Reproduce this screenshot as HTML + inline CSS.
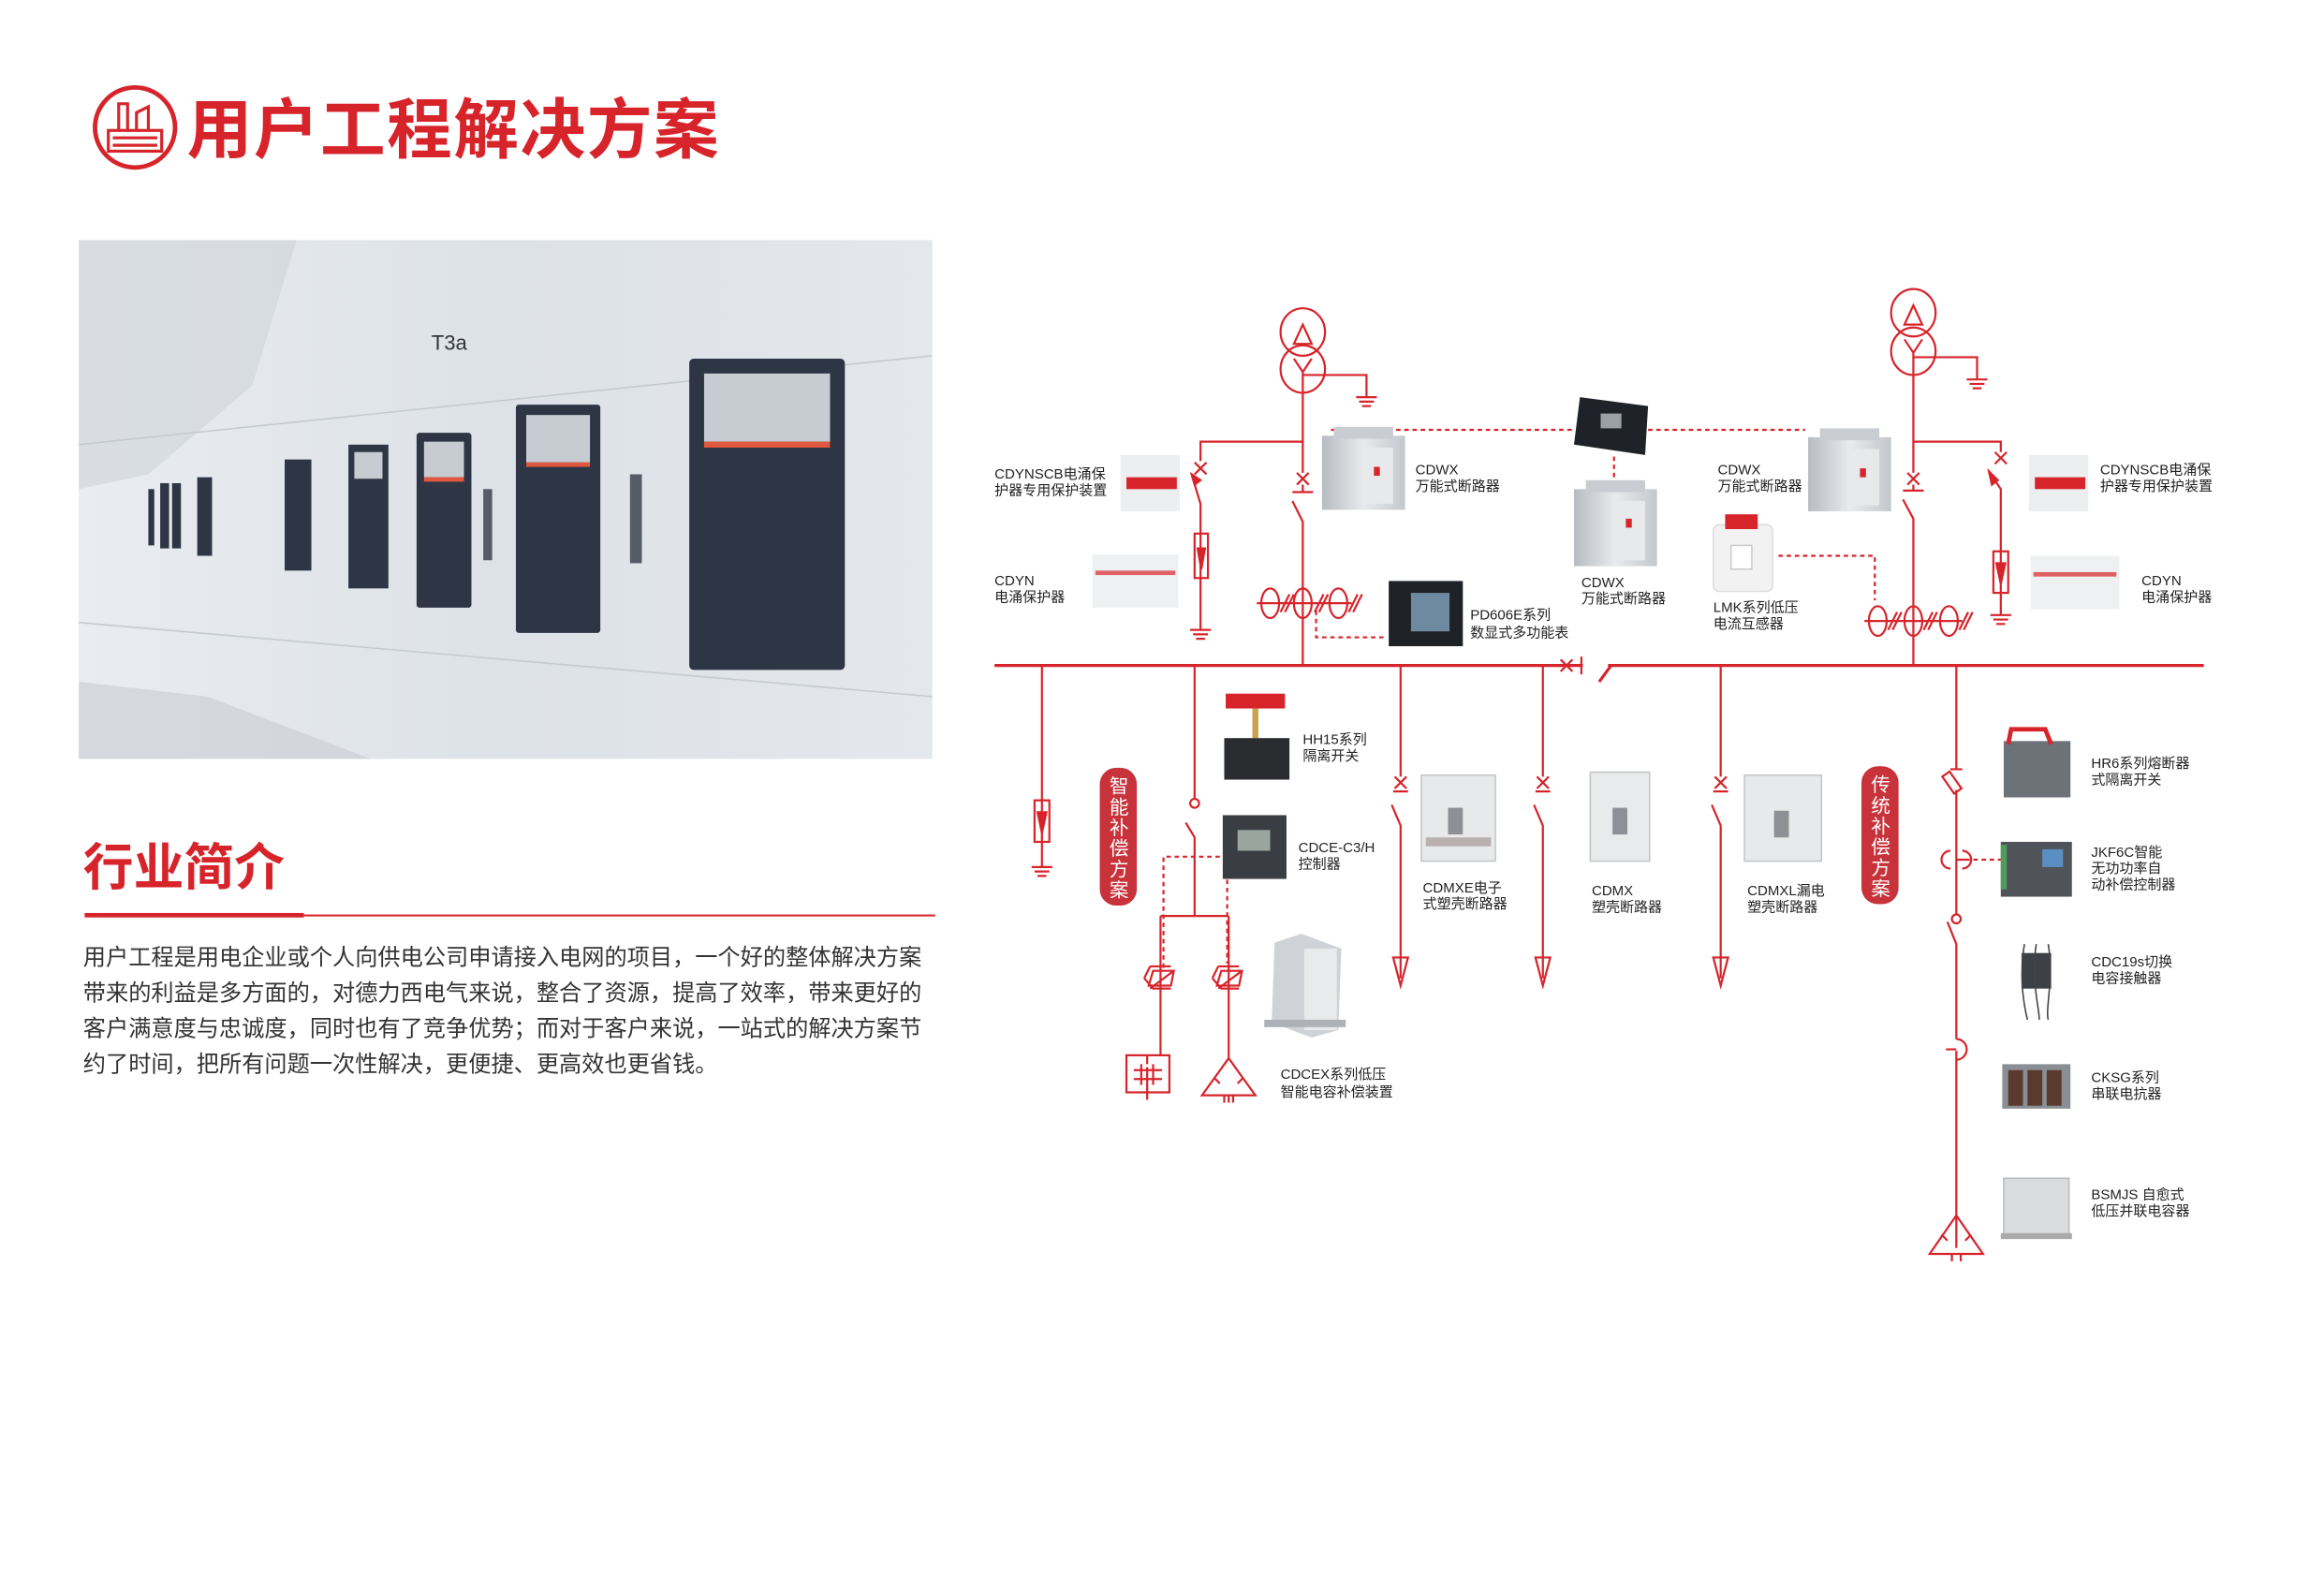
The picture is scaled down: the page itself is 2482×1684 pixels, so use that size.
<!DOCTYPE html>
<html><head><meta charset="utf-8"><style>
html,body{margin:0;padding:0;background:#fff;}
svg{display:block}
text{font-family:"Liberation Sans","Noto Sans CJK SC",sans-serif;}
</style></head><body>
<svg width="2482" height="1684" viewBox="0 0 1568 1064" xmlns="http://www.w3.org/2000/svg">
<defs>
<linearGradient id="ph" x1="0" y1="0" x2="1" y2="0">
<stop offset="0" stop-color="#e9ecf0"/><stop offset="0.5" stop-color="#dde2e8"/><stop offset="1" stop-color="#e4e7eb"/></linearGradient>
<linearGradient id="gr" x1="0" y1="0" x2="1" y2="0">
<stop offset="0" stop-color="#b8bcc2"/><stop offset="0.5" stop-color="#e8eaec"/><stop offset="1" stop-color="#c4c8cc"/></linearGradient>
</defs>
<!-- Title -->
<circle cx="91" cy="86" r="27" fill="none" stroke="#d7242b" stroke-width="3"/>
<g fill="none" stroke="#d7242b" stroke-width="2">
<rect x="73" y="88" width="36" height="14"/>
<line x1="76" y1="93" x2="106" y2="93"/><line x1="76" y1="98" x2="106" y2="98"/>
<path d="M80 88 V70 H86 V88 M92 88 V76 L100 72 V88"/>
</g>
<text x="126" y="103" font-size="44" font-weight="bold" fill="#d7242b" letter-spacing="1">用户工程解决方案</text>
<!-- Photo -->
<rect x="53" y="162" width="576" height="350" fill="url(#ph)"/>
<polygon points="53,162 200,162 170,260 100,320 53,330" fill="#cfd4da" opacity="0.6"/>
<polygon points="53,460 140,470 250,512 53,512" fill="#c9ccd0" opacity="0.6"/>
<line x1="53" y1="300" x2="629" y2="240" stroke="#c5cad1" stroke-width="1"/>
<line x1="53" y1="420" x2="629" y2="470" stroke="#c5cad1" stroke-width="1"/>
<g fill="#2e3645">
<rect x="465" y="242" width="105" height="210" rx="3"/>
<rect x="348" y="273" width="57" height="154" rx="2"/>
<rect x="281" y="292" width="37" height="118" rx="2"/>
<rect x="235" y="300" width="27" height="97"/>
<rect x="192" y="310" width="18" height="75"/>
<rect x="133" y="322" width="10" height="53"/>
<rect x="108" y="326" width="6" height="44"/><rect x="116" y="326" width="6" height="44"/><rect x="100" y="330" width="4" height="38"/>
<rect x="425" y="320" width="8" height="60" fill="#555c66"/>
<rect x="326" y="330" width="6" height="48" fill="#555c66"/>
</g>
<g fill="#c7ccd2">
<rect x="475" y="252" width="85" height="46"/>
<rect x="355" y="280" width="43" height="32"/>
<rect x="286" y="298" width="27" height="24"/>
<rect x="239" y="305" width="19" height="18"/>
</g>
<g fill="#e2583e"><rect x="475" y="298" width="85" height="4"/><rect x="355" y="312" width="43" height="3"/><rect x="286" y="322" width="27" height="3"/></g>
<text x="291" y="236" font-size="14" fill="#333">T3a</text>
<!-- 行业简介 -->
<text x="56" y="597" font-size="34" font-weight="bold" fill="#d7242b">行业简介</text>
<rect x="57" y="616" width="148" height="3" fill="#d7242b"/>
<rect x="205" y="617" width="426" height="1.3" fill="#d7242b"/>
<g font-size="15.3" fill="#333">
<text x="56" y="651">用户工程是用电企业或个人向供电公司申请接入电网的项目，一个好的整体解决方案</text>
<text x="56" y="675">带来的利益是多方面的，对德力西电气来说，整合了资源，提高了效率，带来更好的</text>
<text x="56" y="699">客户满意度与忠诚度，同时也有了竞争优势；而对于客户来说，一站式的解决方案节</text>
<text x="56" y="723">约了时间，把所有问题一次性解决，更便捷、更高效也更省钱。</text>
</g>

<!-- Diagram lines -->
<g stroke="#d7242b" stroke-width="1.4" fill="none">
<!-- left transformer -->
<ellipse cx="879" cy="224" rx="15" ry="16"/><ellipse cx="879" cy="249" rx="15" ry="16"/>
<path d="M873 232 L879 219 L885 232 Z"/>
<path d="M873 242 L879 251 L885 242 M879 251 V265"/>
<path d="M879 253 H922 V268 M915 268 H929 M917 271 H927 M919 274 H925"/>
<path d="M879 265 V319 M879 327 V332 M872 332 H886 M872 338 L879 352 V449"/>
<path d="M875 319 L883 327 M883 319 L875 327"/>
<path d="M879 298 H810 V311 M806 312 L814 320 M814 312 L806 320 M804 320 L810 340 V425 M803 425 H817 M805 428 H815 M807 431 H813"/>
<path d="M804 320 L810 324 L806 327 Z" fill="#d7242b"/>
<rect x="806" y="360" width="9" height="30"/>
<path d="M810.5 384 L808 370 H813 Z" fill="#d7242b"/>
<ellipse cx="857" cy="407" rx="6" ry="10"/><ellipse cx="879" cy="407" rx="6" ry="10"/><ellipse cx="903" cy="407" rx="6" ry="10"/>
<path d="M848 407 H912 M864 413 L870 401 M867 413 L873 401 M887 413 L893 401 M890 413 L896 401 M910 413 L916 401 M913 413 L919 401"/>
<!-- right transformer -->
<ellipse cx="1291" cy="211" rx="15" ry="16"/><ellipse cx="1291" cy="237" rx="15" ry="16"/>
<path d="M1285 219 L1291 206 L1297 219 Z"/>
<path d="M1285 229 L1291 238 L1297 229 M1291 238 V253"/>
<path d="M1291 241 H1334 V256 M1327 256 H1341 M1329 259 H1339 M1331 262 H1337"/>
<path d="M1291 253 V319 M1287 319 L1295 327 M1295 319 L1287 327 M1291 327 V331 M1284 331 H1298 M1284 337 L1291 350 V449"/>
<path d="M1291 298 H1350 V305 M1346 305 L1354 313 M1354 305 L1346 313 M1342 318 L1350 330 V415 M1343 415 H1357 M1345 418 H1355 M1347 421 H1353"/>
<path d="M1342 318 L1348 324 L1344 327 Z" fill="#d7242b"/>
<rect x="1345" y="372" width="10" height="28"/>
<path d="M1350 394 L1347 380 H1353 Z" fill="#d7242b"/>
<ellipse cx="1267" cy="419" rx="6" ry="10"/><ellipse cx="1291" cy="419" rx="6" ry="10"/><ellipse cx="1315" cy="419" rx="6" ry="10"/>
<path d="M1258 419 H1324 M1274 425 L1280 413 M1277 425 L1283 413 M1298 425 L1304 413 M1301 425 L1307 413 M1322 425 L1328 413 M1325 425 L1331 413"/>
<!-- bus -->
<path d="M671 449 H1068 M1085 449 H1487 M1087 449 L1079 460" stroke-width="2"/>
<path d="M1053 445 L1061 453 M1061 445 L1053 453 M1067 443 V455"/>
<!-- drops -->
<path d="M703 449 V585 M696 585 H710 M698 588 H708 M700 591 H706"/>
<rect x="698" y="540" width="10" height="28"/>
<path d="M703 562 L700 548 H706 Z" fill="#d7242b"/>
<path d="M806 449 V539 M800 555 L806 565 V618 M783 618 H829 M783 618 V712 M829 618 V714"/>
<circle cx="806" cy="542" r="3"/>
<path d="M776 652 H790 M772 660 L776 652 M772 660 L778 667 H790 M776 667 L792 655 M775 665 H790 L792 655 H778 Z"/>
<path d="M822 652 H836 M818 660 L822 652 M818 660 L824 667 H836 M822 667 L838 655 M821 665 H836 L838 655 H824 Z"/>
<rect x="760" y="712" width="29" height="25"/>
<path d="M765 722 H784 M765 728 H784 M770 718 V732 M778 718 V732 M774 720 V742 M774 712 V718"/>
<path d="M829 714 L811 739 H847 Z M819 727 L823 731 M839 727 L835 731 M826 739 V744 M832 739 V744 M829 739 V744" />
<!-- three breaker feeders -->
<path d="M945 449 V524 M941 524 L949 532 M949 524 L941 532 M940 534 H950 M939 543 L945 557 V660 M940 646 L945 665 L950 646 Z"/>
<path d="M1041 449 V524 M1037 524 L1045 532 M1045 524 L1037 532 M1036 534 H1046 M1035 543 L1041 557 V660 M1036 646 L1041 665 L1046 646 Z"/>
<path d="M1161 449 V524 M1157 524 L1165 532 M1165 524 L1157 532 M1156 534 H1166 M1155 543 L1161 557 V660 M1156 646 L1161 665 L1166 646 Z"/>
<!-- right compensation -->
<path d="M1320 449 V519 M1316 519 H1324 M1320 533 V617 M1314 622 L1320 637 V701 M1320 709 V842"/>
<rect x="1314" y="521" width="6" height="14" transform="rotate(-35 1317 528)"/>
<circle cx="1320" cy="620" r="3"/>
<path d="M1320 701 A7 7 0 1 1 1320 715 M1313 708 H1320"/>
<path d="M1316 574 A6 6 0 0 0 1316 586 M1324 574 A6 6 0 0 1 1324 586 M1320 580 H1326"/>
<path d="M1320 820 L1302 846 H1338 Z M1310 833 L1314 837 M1330 833 L1326 837 M1317 846 V851 M1323 846 V851"/>
</g>
<!-- dotted lines -->
<g stroke="#d7242b" stroke-width="1.4" fill="none" stroke-dasharray="3,2.5">
<path d="M898 290 H1062 M1112 290 H1218 M1089 308 V322"/>
<path d="M888 412 V430 H935"/>
<path d="M1200 375 H1265 V405"/>
<path d="M823 578 H785 V654 M828 588 V650"/>
<path d="M1326 580 H1350"/>
</g>
<!-- pills -->
<rect x="742" y="518" width="25" height="93" rx="11" fill="#c8323a"/>
<rect x="1256" y="517" width="25" height="93" rx="11" fill="#c8323a"/>
<g font-size="13" fill="#fff" text-anchor="middle">
<text x="755" y="535">智</text><text x="755" y="549">能</text><text x="755" y="563">补</text><text x="755" y="577">偿</text><text x="755" y="591">方</text><text x="755" y="605">案</text>
<text x="1269" y="534">传</text><text x="1269" y="548">统</text><text x="1269" y="562">补</text><text x="1269" y="576">偿</text><text x="1269" y="590">方</text><text x="1269" y="604">案</text>
</g>

<!-- products -->
<g>
<rect x="892" y="294" width="56" height="50" fill="url(#gr)"/><rect x="900" y="288" width="40" height="8" fill="#c9ccd0"/><rect x="918" y="302" width="22" height="38" fill="#e7e9eb"/><rect x="927" y="315" width="4" height="6" fill="#d7242b"/>
<rect x="1220" y="295" width="56" height="50" fill="url(#gr)"/><rect x="1228" y="289" width="40" height="8" fill="#c9ccd0"/><rect x="1246" y="303" width="22" height="38" fill="#e7e9eb"/><rect x="1255" y="316" width="4" height="6" fill="#d7242b"/>
<rect x="1062" y="330" width="56" height="52" fill="url(#gr)"/><rect x="1070" y="324" width="40" height="8" fill="#c9ccd0"/><rect x="1088" y="338" width="22" height="40" fill="#e7e9eb"/><rect x="1097" y="350" width="4" height="6" fill="#d7242b"/>
</g>
<polygon points="1066,268 1112,274 1110,307 1062,300" fill="#1f2329"/><rect x="1080" y="279" width="14" height="10" fill="#9aa0a6"/>
<rect x="756" y="307" width="40" height="38" fill="#eceeef"/><rect x="760" y="322" width="34" height="8" fill="#d7242b"/>
<rect x="1369" y="307" width="40" height="38" fill="#eceeef"/><rect x="1373" y="322" width="34" height="8" fill="#d7242b"/>
<rect x="737" y="374" width="58" height="36" fill="#eef0f1"/><rect x="739" y="385" width="54" height="3" fill="#d7242b" opacity="0.7"/>
<rect x="1370" y="375" width="60" height="36" fill="#eef0f1"/><rect x="1372" y="386" width="56" height="3" fill="#d7242b" opacity="0.7"/>
<rect x="937" y="392" width="50" height="44" fill="#1e2126"/><rect x="952" y="400" width="26" height="26" fill="#6e8aa0"/>
<rect x="1156" y="354" width="40" height="45" rx="4" fill="#f2f2f2" stroke="#ddd"/><rect x="1164" y="347" width="22" height="10" fill="#d7242b"/><rect x="1168" y="368" width="14" height="16" fill="#fff" stroke="#ccc"/>
<rect x="827" y="468" width="40" height="10" fill="#d7242b"/><rect x="845" y="478" width="4" height="20" fill="#c9a24a"/><rect x="826" y="498" width="44" height="28" fill="#2a2c30"/>
<rect x="825" y="550" width="43" height="43" fill="#3a3d42"/><rect x="835" y="560" width="22" height="14" fill="#9aa5a0"/>
<polygon points="860,636 878,630 905,640 903,695 885,700 858,690" fill="#cfd2d6"/><rect x="880" y="640" width="22" height="55" fill="#e8eaec"/><rect x="853" y="688" width="55" height="5" fill="#aeb2b7"/>
<rect x="959" y="523" width="50" height="58" fill="#e8e9ea" stroke="#c4c6c8"/><rect x="977" y="545" width="10" height="18" fill="#8d9095"/><rect x="962" y="565" width="44" height="6" fill="#b9b0b0"/>
<rect x="1073" y="521" width="40" height="60" fill="#e9eaeb" stroke="#c4c6c8"/><rect x="1088" y="545" width="10" height="18" fill="#8d9095"/>
<rect x="1177" y="523" width="52" height="58" fill="#e8e9ea" stroke="#c4c6c8"/><rect x="1197" y="547" width="10" height="18" fill="#8d9095"/>
<rect x="1352" y="500" width="45" height="38" fill="#6d7278"/><path d="M1355 502 L1357 492 H1380 L1384 502" stroke="#d7242b" stroke-width="3" fill="none"/>
<rect x="1350" y="568" width="48" height="37" fill="#505459"/><rect x="1378" y="573" width="14" height="12" fill="#5b8fc2"/><rect x="1350" y="570" width="4" height="30" fill="#4aa05a"/>
<rect x="1364" y="643" width="20" height="24" fill="#3d4045"/><path d="M1366 637 C1362 660 1366 680 1368 688 M1374 637 C1370 660 1376 680 1376 688 M1382 637 C1386 660 1380 680 1382 688" stroke="#444" fill="none"/>
<rect x="1351" y="718" width="46" height="30" fill="#8a8f94"/><rect x="1355" y="722" width="10" height="24" fill="#5a3a2e"/><rect x="1368" y="722" width="10" height="24" fill="#5a3a2e"/><rect x="1381" y="722" width="10" height="24" fill="#5a3a2e"/>
<rect x="1352" y="795" width="44" height="40" fill="#d9dbdd" stroke="#bbb"/><rect x="1350" y="832" width="48" height="4" fill="#aaa"/>

<!-- labels -->
<g font-size="9.5" fill="#222">
<text x="671" y="323">CDYNSCB电涌保</text><text x="671" y="334">护器专用保护装置</text>
<text x="671" y="395">CDYN</text><text x="671" y="406">电涌保护器</text>
<text x="955" y="320">CDWX</text><text x="955" y="331">万能式断路器</text>
<text x="1159" y="320">CDWX</text><text x="1159" y="331">万能式断路器</text>
<text x="1067" y="396">CDWX</text><text x="1067" y="407">万能式断路器</text>
<text x="1417" y="320">CDYNSCB电涌保</text><text x="1417" y="331">护器专用保护装置</text>
<text x="1445" y="395">CDYN</text><text x="1445" y="406">电涌保护器</text>
<text x="1156" y="413">LMK系列低压</text><text x="1156" y="424">电流互感器</text>
<text x="992" y="418">PD606E系列</text><text x="992" y="430">数显式多功能表</text>
<text x="879" y="502">HH15系列</text><text x="879" y="513">隔离开关</text>
<text x="876" y="575">CDCE-C3/H</text><text x="876" y="586">控制器</text>
<text x="864" y="728">CDCEX系列低压</text><text x="864" y="740">智能电容补偿装置</text>
<text x="960" y="602">CDMXE电子</text><text x="960" y="613">式塑壳断路器</text>
<text x="1074" y="604">CDMX</text><text x="1074" y="615">塑壳断路器</text>
<text x="1179" y="604">CDMXL漏电</text><text x="1179" y="615">塑壳断路器</text>
<text x="1411" y="518">HR6系列熔断器</text><text x="1411" y="529">式隔离开关</text>
<text x="1411" y="578">JKF6C智能</text><text x="1411" y="589">无功功率自</text><text x="1411" y="600">动补偿控制器</text>
<text x="1411" y="652">CDC19s切换</text><text x="1411" y="663">电容接触器</text>
<text x="1411" y="730">CKSG系列</text><text x="1411" y="741">串联电抗器</text>
<text x="1411" y="809">BSMJS 自愈式</text><text x="1411" y="820">低压并联电容器</text>
</g>
</svg>
</body></html>
